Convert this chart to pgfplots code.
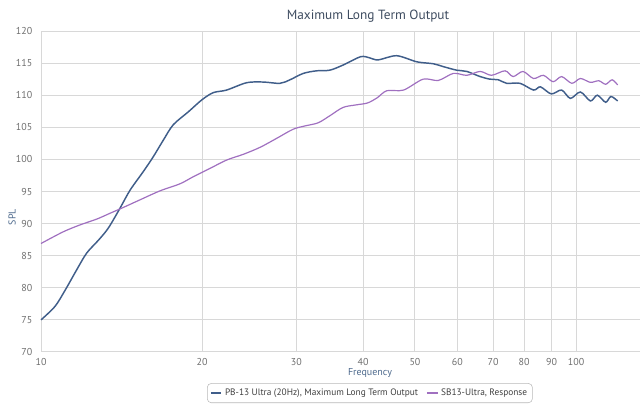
\documentclass[border=0pt]{standalone}
\usepackage{fontspec}
\setmainfont{PT Sans}
\usepackage{pgfplots}
\pgfplotsset{compat=1.18}
\definecolor{pbblue}{RGB}{64,94,138}
\definecolor{sbpurple}{RGB}{160,112,192}
\definecolor{gridc}{RGB}{216,216,216}
\definecolor{ticklab}{RGB}{110,110,110}
\definecolor{axtitle}{RGB}{77,105,140}
\definecolor{titlec}{RGB}{62,76,96}
\begin{document}
\begin{tikzpicture}[x=0.75pt,y=0.75pt]
\useasboundingbox (0,0) rectangle (640,407);
\begin{axis}[
  at={(30.75pt,41.25pt)}, anchor=south west,
  scale only axis, width=449.25pt, height=240.75pt,
  xmode=log, xmin=10, xmax=131.7, ymin=70, ymax=120,
  xtick={10,20,30,40,50,60,70,80,90,100},
  xticklabels={10,20,30,40,50,60,70,80,90,100},
  ytick={70,75,...,120},
  /pgf/number format/assume math mode=true,
  ticklabel style={font=\fontsize{7.5}{9}\selectfont, text=ticklab},
  yticklabel style={xshift=-3pt},
  xticklabel style={yshift=-1pt},
  major tick length=0pt, minor tick num=0,
  log ticks with fixed point,
  grid=major, major grid style={draw=gridc, line width=0.75pt},
  axis line style={draw=none},
  clip=false,
  legend columns=2,
  legend style={at={(0.549,-0.128)}, anchor=center, draw=gray!55, rounded corners=3pt,
    font=\fontsize{7}{8.5}\selectfont, text=black!75, inner xsep=2pt, inner ysep=2pt,
    /tikz/every even column/.append style={column sep=4pt}},
  legend image code/.code={\draw[#1, line width=1.3pt] (0pt,0pt) -- (8pt,0pt);},
]
\addplot[pbblue, line width=1.1pt, smooth] coordinates {
(10,75.0) (10.62,77.1) (11.09,79.6) (11.66,82.8) (12.17,85.4) (12.8,87.4) (13.36,89.3)
(14.05,92.4) (14.67,95.2) (15.53,98.1) (16.21,100.4) (16.93,103.0) (17.67,105.4)
(18.85,107.4) (20.0,109.3) (20.99,110.4) (22.23,110.8) (24.24,111.95) (26.04,112.05)
(27.97,111.85) (29.2,112.4) (30.93,113.4) (32.76,113.8) (34.67,113.9) (36.7,114.7)
(39.6,116.0) (41.2,115.8) (42.7,115.5) (46.2,116.15) (50.4,115.2) (54.1,114.9)
(56.5,114.45) (59.8,113.9) (62.5,113.7) (66.2,112.9) (69.0,112.5) (71.6,112.4)
(74.2,111.85) (78.6,111.85) (83.3,110.8) (85.8,111.3) (89.9,110.2) (94.0,110.8)
(97.6,109.5) (101.9,110.5) (106.4,109.1) (109.6,110.0) (113.6,108.9) (116.2,109.8)
(119.6,109.1)
};
\addlegendentry{PB-13 Ultra (20Hz), Maximum Long Term Output}
\addplot[sbpurple, line width=0.9pt, smooth] coordinates {
(10,86.9) (10.99,88.7) (11.83,89.8) (12.71,90.7) (13.45,91.6) (14.15,92.4) (15.31,93.7)
(16.69,95.1) (18.19,96.2) (19.26,97.3) (20.7,98.6) (22.23,99.9) (23.9,100.8)
(25.7,101.9) (27.6,103.3) (29.6,104.7) (31.1,105.2) (32.96,105.7) (34.67,106.8)
(36.7,108.1) (38.9,108.5) (40.8,108.8) (42.5,109.6) (44.3,110.7) (47.6,110.8)
(51.8,112.5) (55.3,112.3) (59.0,113.4) (62.5,113.1) (66.2,113.7) (69.5,113.1)
(73.7,113.8) (76.3,112.9) (79.6,113.7) (83.3,112.6) (86.9,113.1) (90.6,112.1)
(94.0,112.9) (98.2,111.85) (101.9,112.6) (106.4,112.0) (110.3,112.25) (113.6,111.7)
(116.8,112.4) (119.6,111.6)
};
\addlegendentry{SB13-Ultra, Response}
\end{axis}
\node[font=\fontsize{10}{12}\selectfont, text=titlec] at (368,391) {Maximum Long Term Output};
\node[font=\fontsize{7.5}{9}\selectfont, text=axtitle, rotate=90] at (12,190) {SPL};
\node[font=\fontsize{7.5}{9}\selectfont, text=axtitle] at (370,34) {Frequency};
\end{tikzpicture}
\end{document}
